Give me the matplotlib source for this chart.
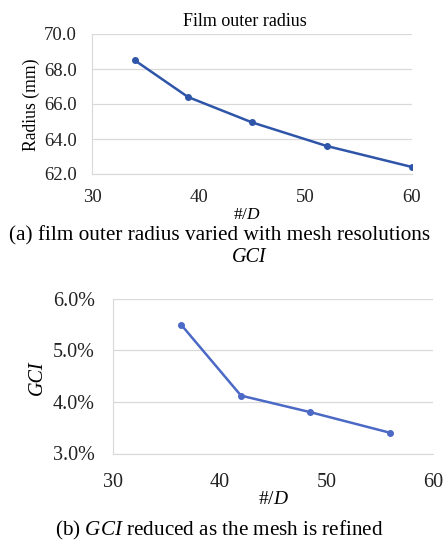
import numpy as np
from matplotlib import pyplot as plt
from matplotlib.ticker import FuncFormatter

# values
mesh_a = [34, 39, 45, 52, 60]
radius_a = [68.5, 66.4, 64.95, 63.6, 62.4]

mesh_b = [36.4, 42.0, 48.5, 56.0]
gci_b = [5.49, 4.12, 3.80, 3.40]

plt.rcParams['font.family'] = ['Liberation Serif', 'DejaVu Serif']
plt.rcParams['mathtext.fontset'] = 'custom'
plt.rcParams['mathtext.rm'] = 'Liberation Serif'
plt.rcParams['mathtext.it'] = 'Liberation Serif:italic'

fig = plt.figure(figsize=(4.45, 5.44), dpi=100)

grid_col = "#d9d9d9"

def style(ax, size):
    for s in ["top", "right"]:
        ax.spines[s].set_visible(False)
    ax.spines["left"].set_color(grid_col)
    ax.spines["bottom"].set_color(grid_col)
    ax.tick_params(length=0, labelsize=size, colors="#222222")
    ax.grid(axis="y", color=grid_col, linewidth=0.9)
    ax.set_axisbelow(True)

# (a) film outer radius
ax1 = fig.add_axes([92/445, 1-174/544, 320/445, 140/544])
ax1.plot(mesh_a, radius_a, color="#2e55a8", lw=1.8, marker="o", ms=4)
ax1.set_xlim(30, 60)
ax1.set_ylim(62, 70)
ax1.set_xticks([30, 40, 50, 60])
ax1.set_yticks(np.arange(62, 70.1, 2))
ax1.yaxis.set_major_formatter(FuncFormatter(lambda v, p: f"{v:.1f}"))
ax1.tick_params(axis="x", pad=11)
ax1.tick_params(axis="y", pad=11)
style(ax1, 13.5)

fig.text(245/445, 1-21/544, "Film outer radius", ha="center", va="center", fontsize=13)
fig.text(31/445, 1-105/544, "Radius (mm)", ha="center", va="center", rotation=90, fontsize=12.7)
fig.text(247/445, 1-215/544, "#/$D$", ha="center", va="center", fontsize=12.5)
fig.text(220/445, 1-236/544, "(a) film outer radius varied with mesh resolutions",
         ha="center", va="center", fontsize=15.3)

# (b) GCI
ax2 = fig.add_axes([113/445, 1-453.5/544, 320/445, 155/544])
ax2.plot(mesh_b, gci_b, color="#4b69c5", lw=1.8, marker="o", ms=4)
ax2.set_xlim(30, 60)
ax2.set_ylim(3, 6)
ax2.set_xticks([30, 40, 50, 60])
ax2.set_yticks([3, 4, 5, 6])
ax2.yaxis.set_major_formatter(FuncFormatter(lambda v, p: f"{v:.1f}%"))
ax2.tick_params(axis="x", pad=14)
ax2.tick_params(axis="y", pad=13)
style(ax2, 14.5)

fig.text(249/445, 1-257/544, "GCI", ha="center", va="center", fontsize=14.5, style="italic")
fig.text(37/445, 1-378/544, "GCI", ha="center", va="center", rotation=90, fontsize=14.5, style="italic")
fig.text(273/445, 1-500/544, "#/$D$", ha="center", va="center", fontsize=14)
fig.text(219/445, 1-530/544, "(b) $\\mathit{GCI}$ reduced as the mesh is refined",
         ha="center", va="center", fontsize=15.2)

fig.savefig("out.png", dpi=100)
